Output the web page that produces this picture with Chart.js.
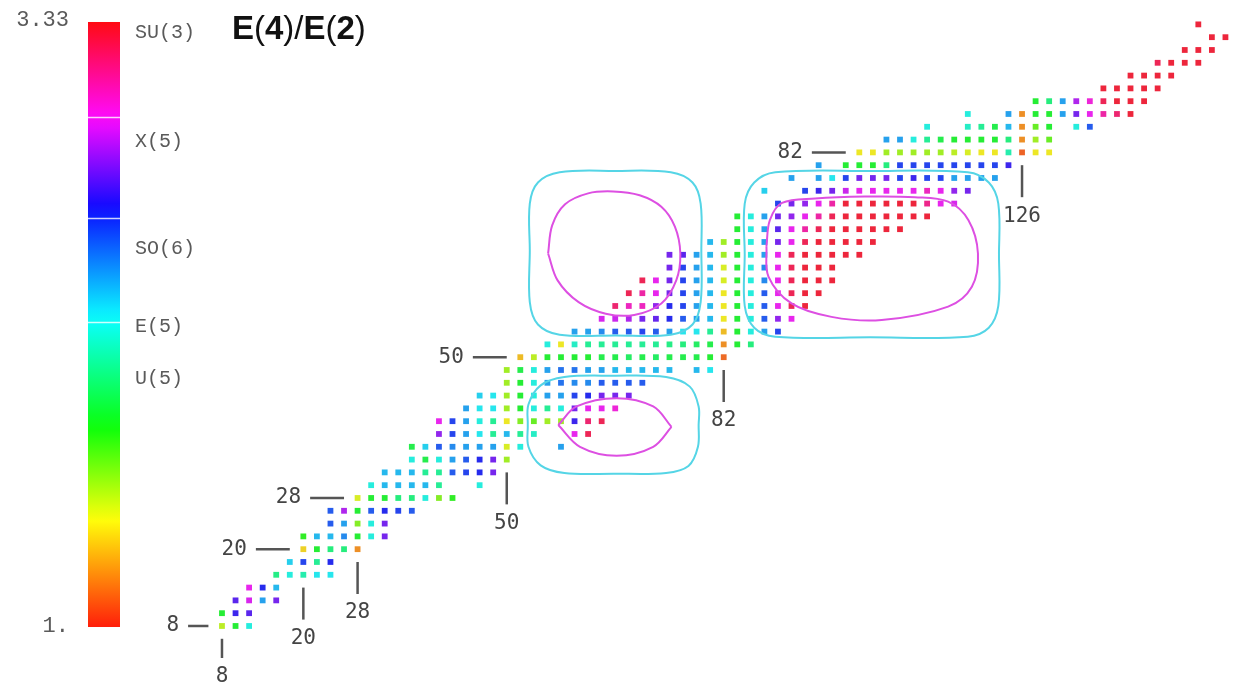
<!DOCTYPE html>
<html>
<head>
<meta charset="utf-8">
<title>E(4)/E(2)</title>
<script src="https://cdn.jsdelivr.net/npm/chart.js@4.4.1/dist/chart.umd.min.js"></script>
<style>
  html, body { margin: 0; padding: 0; background: #fff; }
  #wrap { width: 1235px; height: 688px; position: relative; }
</style>
</head>
<body>
<div id="wrap"><canvas id="myChart"></canvas></div>
<script>
// proton number Z of each row (even-even nuclei only)
var protonRows = [8, 10, 12, 14, 16, 18, 20, 22, 24, 26, 28, 30, 32, 34, 36, 38, 40, 42, 44, 46, 48, 50,
  52, 54, 56, 58, 60, 62, 64, 66, 68, 70, 72, 74, 76, 78, 80, 82, 84, 86, 88, 90, 92, 94, 96, 98, 100, 102];

// neutron number N of the first nucleus in each row (next ones every 2 neutrons)
var firstNeutron = [8, 8, 10, 12, 16, 18, 20, 20, 24, 24, 28, 30, 32, 36, 36, 40, 40, 44, 46, 50, 50, 52,
  56, 60, 64, 66, 68, 70, 74, 74, 80, 84, 84, 90, 88, 92, 96, 102, 106, 112, 118, 128, 138, 142, 146, 150, 154, 152];

// E(4+)/E(2+), null = no value
var ratioRows = [
  [1.5, 1.8, 2.15],
  [1.8, 2.65, 2.7],
  [2.7, 2.92, 2.35, 2.75],
  [2.95, 2.6, 2.3],
  [1.97, 2.15, 2.05, 2.2, 2.2],
  [2.25, 2.55, 2.0, 2.6],
  [1.35, 1.8, 1.95, 1.95, 1.2],
  [1.75, 2.3, 2.3, 2.4, 1.8, 2.15, 2.75],
  [2.5, 2.35, 1.6, 2.15, 2.75],
  [2.5, 2.85, 1.8, 2.5, 2.6, 2.55, 2.5],
  [1.45, 1.8, 1.8, 1.95, 1.95, 2.15, 1.6, 1.75],
  [2.15, 2.3, 2.3, 2.3, 2.3, 2.0, null, null, 2.15],
  [2.3, 2.3, 2.3, 2.0, 2.0, 2.5, 2.55, 2.6, 2.75],
  [2.15, 1.85, 2.15, 2.35, 2.5, 2.6, 2.75, 1.55],
  [1.85, 2.25, 2.5, 2.4, 2.35, 2.35, 2.35, 1.45, 2.15, null, null, 2.35],
  [2.8, 2.55, 2.35, 2.2, 2.0, 2.3, 2.0, 2.1, null, null, 2.95, 3.25],
  [2.95, 2.55, 2.35, 2.15, 2.0, 1.4, 1.6, 1.65, 1.55, 1.55, 2.65, 3.2, 3.25],
  [2.35, 2.2, 2.2, 1.55, 1.8, 2.15, 2.0, 2.15, 2.75, 2.95, 2.95, 3.0],
  [2.25, 2.2, 1.55, 1.8, 2.15, 2.35, 2.35, 2.55, 2.6, 2.75, 2.75, 2.75],
  [1.55, 1.8, 2.15, 2.35, 2.45, 2.4, 2.4, 2.5, 2.5, 2.5, 2.5],
  [1.55, 1.85, 2.15, 2.35, 2.45, 2.45, 2.35, 2.35, 2.3, 2.3, 2.3, 2.3, 2.3, null, 2.3, 2.2],
  [1.3, 1.5, 1.8, 1.8, 1.8, 1.8, 1.85, 1.85, 1.9, 1.85, 1.9, 1.85, 1.85, 1.85, 1.8, 1.12],
  [2.15, 1.4, 2.1, 2.0, 2.0, 2.0, 2.0, 2.0, 2.0, 1.97, 1.95, 1.9, 1.85, 1.2, 1.8, 1.95],
  [2.35, 2.35, 2.4, 2.5, 2.5, 2.55, 2.5, 2.35, 2.2, 2.2, 2.0, 1.3, 1.8, 2.15, 2.35, 2.55],
  [2.92, 2.9, 2.85, 2.75, 2.72, 2.6, 2.5, 2.35, 2.3, 1.4, 1.8, 2.15, 2.5, 2.8, 2.95],
  [3.2, 3.05, 3.05, 2.8, 2.6, 2.55, 2.35, 2.3, 1.4, 1.8, 2.15, 2.5, 2.95, 3.25, 3.3],
  [3.25, 3.1, 2.95, 2.75, 2.55, 2.35, 2.3, 1.4, 1.8, 2.15, 2.5, 2.95, 3.25, 3.3, 3.3],
  [3.25, 2.95, 2.75, 2.55, 2.35, 2.3, 1.45, 1.8, 2.15, 2.4, 2.95, 3.25, 3.3, 3.3, 3.3],
  [2.75, 2.55, 2.35, 2.3, 1.45, 1.8, 2.15, 2.4, 2.95, 3.25, 3.3, 3.3, 3.3],
  [2.75, 2.7, 2.35, 2.3, 1.55, 1.8, 2.15, 2.35, 2.95, 3.25, 3.3, 3.3, 3.3, 3.3, 3.3],
  [2.3, 1.55, 1.8, 2.15, 2.35, 2.75, 2.95, 3.25, 3.3, 3.3, 3.3, 3.3, 3.3],
  [1.8, 2.15, 2.35, 2.7, 2.95, 3.1, 3.25, 3.3, 3.3, 3.3, 3.3, 3.3, 3.3],
  [1.8, 2.15, 2.35, 2.75, 2.8, 2.95, 3.1, 3.25, 3.3, 3.3, 3.3, 3.3, 3.3, 3.3, 3.3],
  [2.55, 2.75, 2.8, 2.95, 3.1, 3.3, 3.3, 3.3, 3.3, 3.3, 3.3, 3.15, 2.95, 2.92],
  [2.25, null, null, 2.55, 2.65, 2.75, 2.9, 2.95, 2.95, 2.95, 2.95, 2.95, 3.05, 2.95, 2.8, 2.75],
  [2.35, null, 2.35, 2.2, 2.55, 2.75, 2.75, 2.75, 2.55, 2.65, 2.55, 2.55, 2.35, 2.35, 2.35, 2.35],
  [2.35, null, 1.8, 1.8, 1.8, 1.95, 2.55, 2.55, 2.55, 2.55, 2.55, 2.55, 2.55, 2.55, 2.65],
  [1.4, 1.4, 1.55, 1.55, 1.55, 1.55, 1.55, 1.5, 1.45, 1.4, 1.4, 2.05, 1.1, 1.4, 1.4],
  [2.35, 2.35, 2.15, 2.0, 1.85, 1.8, 1.8, 1.8, 1.8, 1.95, 1.2, 1.55, 1.65],
  [2.15, null, null, 2.1, 2.0, 1.85, 2.3, 1.2, 1.65, 1.8, null, 2.15, 2.5],
  [2.15, null, null, 2.35, 1.2, 1.8, 1.8, 2.35, 2.75, 2.95, 3.1, 3.2, 3.3],
  [1.8, 1.95, 2.35, 2.85, 3.0, 3.25, 3.3, 3.3, 3.3],
  [3.3, 3.3, 3.3, 3.3, 3.3],
  [3.3, 3.3, 3.3, 3.3],
  [3.25, 3.3, 3.3, 3.3],
  [3.3, 3.3, 3.3],
  [3.3, 3.3],
  [3.3]
];

// shell closures
var magicNumbers = [8, 20, 28, 50, 82, 126];

// colour bar: range, symmetry limits and their values
var barMin = 1.0;
var barMax = 3.33;
var barBreaks = [2.175, 2.575, 2.965];
var modelNames = ['SU(3)', 'X(5)', 'SO(6)', 'E(5)', 'U(5)'];
var modelValues = [3.33, 2.91, 2.5, 2.2, 2.0];

// contour lines, points as [N, Z]
var cyanLeft = [[53.4, 66.7], [53.4, 74.0], [54.6, 77.3], [57.8, 78.9], [66, 79.1], [74.2, 78.9], [77.4, 77.3], [78.6, 74.0],
  [78.7, 66.7], [78.6, 58.6], [77.4, 55.1], [74.2, 53.5], [66, 53.4], [57.8, 53.5], [54.6, 55.1], [53.4, 58.6], [53.4, 66.7]];
var cyanRight = [[85.1, 66], [85.1, 74.0], [86.5, 77.3], [89.6, 78.9], [103.6, 79.1], [118.0, 78.9], [121.1, 77.3], [122.5, 74.0],
  [122.6, 66], [122.5, 58.0], [121.1, 54.6], [118.0, 53.2], [103.6, 53.1], [89.6, 53.2], [86.5, 54.6], [85.1, 58.0], [85.1, 66]];
var cyanLower = [[53.1, 39.4], [53.2, 42.6], [55.0, 45.6], [58.5, 46.9], [65.7, 47.1], [73.5, 46.9], [77.0, 45.4], [78.3, 42.3],
  [78.3, 39.4], [78.2, 36.0], [76.8, 33.0], [73.5, 31.9], [65.7, 31.8], [58.5, 31.9], [55.0, 33.1], [53.2, 36.0], [53.1, 39.4]];
var magentaLeft = [[56.1, 66.2], [56.7, 70.6], [58.6, 73.9], [62.0, 75.6], [65.7, 75.9], [69.6, 75.3], [72.8, 73.5], [74.8, 70.4],
  [75.6, 66.2], [75.0, 62.0], [72.8, 58.4], [68.8, 56.6], [64.6, 56.8], [60.6, 58.6], [57.5, 62.0], [56.1, 66.2]];
var magentaRight = [[88.3, 67.3], [88.8, 71.4], [90.6, 74.1], [95.5, 74.8], [102.8, 75.1], [110.2, 75.0], [115.1, 74.3],
  [118.1, 71.4], [119.5, 66.2], [118.6, 61.0], [115.1, 57.9], [105.3, 55.8], [97.9, 56.3], [92.0, 58.4], [88.6, 62.6], [88.3, 67.3]];
var magentaLensTop = [[57.6, 39.4], [60.3, 42.3], [66.2, 43.6], [71.6, 42.3], [74.3, 39.1]];
var magentaLensBottom = [[74.3, 39.1], [71.6, 36.0], [66.2, 34.6], [60.8, 36.0], [57.6, 39.4]];

// colour map: value -> hue
var hueStops = [[1.0, 5], [1.40, 58], [1.77, 120], [2.17, 178], [2.58, 235], [2.96, 300], [3.33, 358]];
function ratioHue(v) {
  if (v <= hueStops[0][0]) return hueStops[0][1];
  for (var i = 1; i < hueStops.length; i++) {
    if (v <= hueStops[i][0]) {
      var a = hueStops[i - 1], b = hueStops[i];
      return a[1] + (b[1] - a[1]) * (v - a[0]) / (b[0] - a[0]);
    }
  }
  return hueStops[hueStops.length - 1][1];
}
function ratioColor(v) {
  return 'hsl(' + ratioHue(v).toFixed(1) + ', 85%, 54%)';
}

// build the points
var nuclei = [];
protonRows.forEach(function(z, i) {
  ratioRows[i].forEach(function(v, k) {
    if (v !== null) nuclei.push({ x: firstNeutron[i] + 2 * k, y: z, v: v });
  });
});

function toXY(list) {
  return list.map(function(p) { return { x: p[0], y: p[1] }; });
}
function contour(list, color) {
  return {
    data: toXY(list),
    showLine: true,
    borderColor: color,
    borderWidth: 2,
    pointRadius: 0,
    tension: 0.35,
    fill: false,
    order: 1
  };
}

var CYAN = '#55d5e6';
var MAGENTA = '#dd4fe2';

// colour bar, its ticks and the model names
var colorBarPlugin = {
  id: 'colorBar',
  afterDraw: function(chart) {
    var ctx = chart.ctx;
    var s = chart.scales.yBar;
    var left = 88, width = 32;
    var top = s.getPixelForValue(barMax), bottom = s.getPixelForValue(barMin);
    var grad = ctx.createLinearGradient(0, bottom, 0, top);
    for (var i = 0; i <= 40; i++) {
      var v = barMin + (barMax - barMin) * i / 40;
      grad.addColorStop(i / 40, 'hsl(' + ratioHue(v).toFixed(1) + ', 100%, 52%)');
    }
    ctx.save();
    ctx.fillStyle = grad;
    ctx.fillRect(left, top, width, bottom - top);
    ctx.strokeStyle = 'rgba(255,255,255,0.8)';
    ctx.lineWidth = 1.5;
    barBreaks.forEach(function(b) {
      var y = Math.round(s.getPixelForValue(b)) + 0.5;
      ctx.beginPath();
      ctx.moveTo(left, y);
      ctx.lineTo(left + width, y);
      ctx.stroke();
    });
    ctx.fillStyle = '#5a5a5a';
    ctx.font = '22px "Liberation Mono", monospace';
    ctx.textAlign = 'right';
    ctx.textBaseline = 'middle';
    ctx.fillText(barMax.toFixed(2), 69, top - 2);
    ctx.fillText(barMin.toFixed(0) + '.', 69, bottom - 1);
    ctx.textAlign = 'left';
    ctx.textBaseline = 'top';
    ctx.font = '20px "Liberation Mono", monospace';
    modelNames.forEach(function(name, i) {
      ctx.fillText(name, 135, s.getPixelForValue(modelValues[i]) + 1);
    });
    ctx.restore();
  }
};

// magic number ticks next to the first nucleus of each closed shell
var magicPlugin = {
  id: 'magicMarks',
  afterDatasetsDraw: function(chart) {
    var ctx = chart.ctx;
    var xs = chart.scales.x, ys = chart.scales.y;
    ctx.save();
    ctx.strokeStyle = '#555';
    ctx.lineWidth = 2.5;
    ctx.fillStyle = '#444';
    ctx.font = '21px "DejaVu Sans Mono", monospace';
    magicNumbers.forEach(function(m) {
      var len = m === 8 ? 3 : 5;
      var rowN = nuclei.filter(function(p) { return p.y === m; }).map(function(p) { return p.x; });
      if (rowN.length) {
        var n0 = Math.min.apply(null, rowN) - 2;
        var y = ys.getPixelForValue(m);
        var x1 = xs.getPixelForValue(n0 - len), x2 = xs.getPixelForValue(n0);
        ctx.beginPath();
        ctx.moveTo(x1, y);
        ctx.lineTo(x2, y);
        ctx.stroke();
        ctx.textAlign = 'right';
        ctx.textBaseline = 'middle';
        ctx.fillText(String(m), x1 - 9, y);
      }
      var colZ = nuclei.filter(function(p) { return p.x === m; }).map(function(p) { return p.y; });
      if (colZ.length) {
        var z0 = Math.min.apply(null, colZ) - 2;
        var x = xs.getPixelForValue(m);
        var y1 = ys.getPixelForValue(z0), y2 = ys.getPixelForValue(z0 - len);
        ctx.beginPath();
        ctx.moveTo(x, y1);
        ctx.lineTo(x, y2);
        ctx.stroke();
        ctx.textAlign = 'center';
        ctx.textBaseline = 'middle';
        ctx.fillText(String(m), x, y2 + 19);
      }
    });
    ctx.restore();
  }
};

// title with bold letters and thin brackets
var titlePlugin = {
  id: 'titleText',
  afterDraw: function(chart) {
    var ctx = chart.ctx;
    var parts = [['E', 'bold'], ['(', 'normal'], ['4', 'bold'], [')', 'normal'], ['/', 'normal'],
      ['E', 'bold'], ['(', 'normal'], ['2', 'bold'], [')', 'normal']];
    var x = 232;
    ctx.save();
    ctx.fillStyle = '#111';
    ctx.textBaseline = 'alphabetic';
    ctx.textAlign = 'left';
    parts.forEach(function(p) {
      ctx.font = p[1] + ' 33px "Liberation Sans", Arial, sans-serif';
      ctx.fillText(p[0], x, 39);
      x += ctx.measureText(p[0]).width;
    });
    ctx.restore();
  }
};

var ctx = document.getElementById('myChart').getContext('2d');
var myChart = new Chart(ctx, {
  type: 'scatter',
  data: {
    datasets: [
      contour(cyanLeft, CYAN),
      contour(cyanRight, CYAN),
      contour(cyanLower, CYAN),
      contour(magentaLeft, MAGENTA),
      contour(magentaRight, MAGENTA),
      contour(magentaLensTop, MAGENTA),
      contour(magentaLensBottom, MAGENTA),
      {
        data: nuclei,
        pointStyle: 'rect',
        pointRadius: 4.1,
        borderWidth: 0,
        backgroundColor: function(c) { return c.raw ? ratioColor(c.raw.v) : '#000'; },
        order: 2
      }
    ]
  },
  options: {
    responsive: true,
    maintainAspectRatio: false,
    animation: false,
    layout: { padding: 0, autoPadding: false },
    plugins: {
      legend: { display: false },
      tooltip: { enabled: false }
    },
    scales: {
      x: { type: 'linear', min: -24.74, max: 157.41, display: false },
      y: { type: 'linear', min: -1.69, max: 105.81, display: false },
      yBar: { type: 'linear', position: 'left', min: 0.7651, max: 3.4147, display: false }
    }
  },
  plugins: [magicPlugin, colorBarPlugin, titlePlugin]
});
</script>
</body>
</html>
